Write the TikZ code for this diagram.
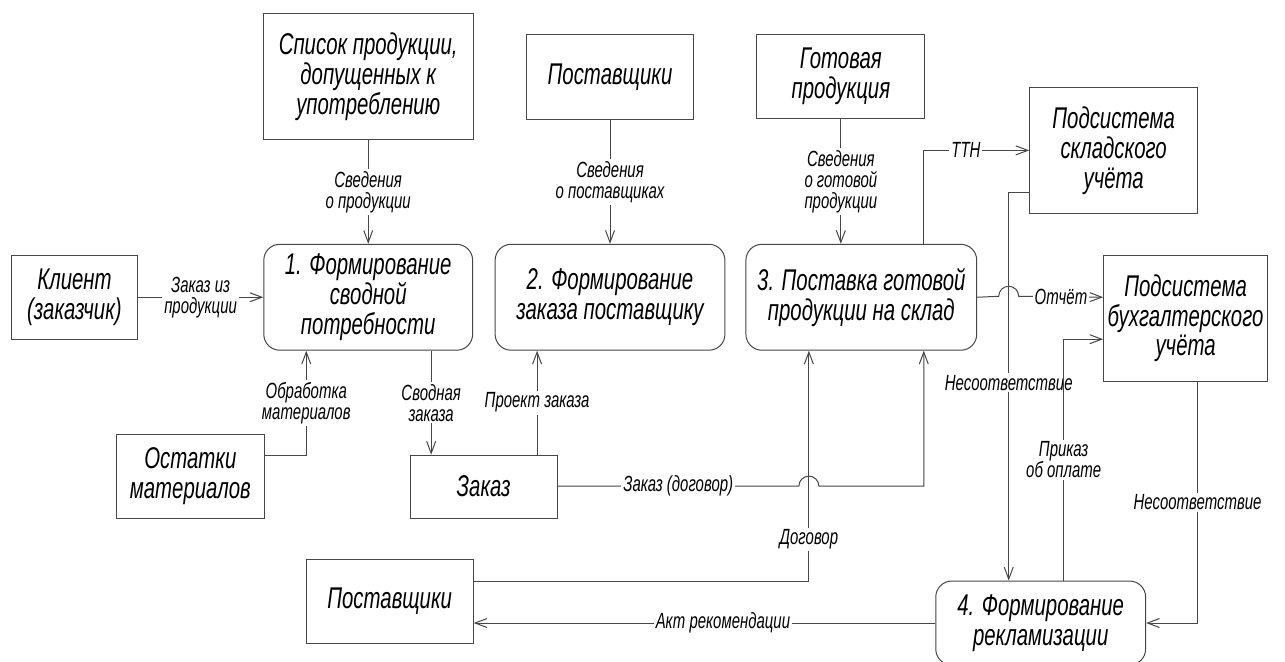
\documentclass[tikz,border=0pt]{standalone}
\usepackage{fontspec}
\setmainfont{Liberation Sans}[FakeStretch=0.68]
\usetikzlibrary{arrows.meta}
\definecolor{ln}{RGB}{70,70,70}
\begin{document}
\begin{tikzpicture}[x=0.5pt,y=-0.5pt,>={Straight Barb[length=6pt,width=4.5pt]},
  line width=.5pt,every path/.style={draw=ln},
  box/.style 2 args={draw=ln,minimum width=#1,minimum height=#2,inner sep=1pt,
    align=center,font=\itshape\fontsize{15}{15}\selectfont},
  proc/.style 2 args={box={#1}{#2},rounded corners=8pt},
  lbl/.style={fill=white,inner sep=1pt,align=center,font=\itshape\fontsize{11}{10.5}\selectfont}]
\useasboundingbox (0,0) rectangle (1285,661);
\fill[white] (0,0) rectangle (1285,661);

\node[box={105pt}{63pt}] (list) at (368,76) {Список продукции,\\допущенных к\\употреблению};
\node[box={84pt}{42.5pt}] (supA) at (610,76.5) {Поставщики};
\node[box={84pt}{42pt}] (ready) at (841,76) {Готовая\\продукция};
\node[box={84pt}{63pt}] (stock) at (1114,150) {Подсистема\\складского\\учёта};
\node[box={82pt}{63pt}] (acct) at (1186,318) {Подсистема\\бухгалтерского\\учёта};
\node[proc={104.5pt}{53pt}] (p1) at (368,297) {1. Формирование\\сводной\\потребности};
\node[proc={115pt}{53pt}] (p2) at (610,297) {2. Формирование\\заказа поставщику};
\node[proc={115.5pt}{53pt}] (p3) at (861.5,297) {3. Поставка готовой\\продукции на склад};
\node[box={63pt}{42pt}] (client) at (74,297) {Клиент\\(заказчик)};
\node[box={74pt}{42pt}] (rest) at (190,476) {Остатки\\материалов};
\node[box={73.5pt}{31.5pt}] (order) at (483.5,486.5) {Заказ};
\node[box={83.5pt}{42.5pt}] (supB) at (389.5,601.5) {Поставщики};
\node[proc={105pt}{42pt}] (p4) at (1041,623) {4. Формирование\\рекламизации};

\coordinate (tth) at (924,150); \coordinate (nc1) at (1009,192);
\coordinate (ob) at (306,455); \coordinate (sv) at (431,400);
\coordinate (pr) at (537,400); \coordinate (zd) at (924,486);
\coordinate (j1) at (799,486); \coordinate (dg) at (809,581);
\coordinate (j2) at (999,296); \coordinate (pk) at (1064,339);
\coordinate (nc2) at (1198,623);

\draw[->] (list) -- node[lbl]{Сведения\\о продукции} (p1);
\draw[->] (supA) -- node[lbl]{Сведения\\о поставщиках} (p2);
\draw[->] (ready) -- node[lbl]{Сведения\\о готовой\\продукции} (ready.south |- p3.north);
\draw[->] (tth |- p3.north) |- node[lbl,pos=.7]{ТТН} (stock.west |- tth);
\draw[->] (stock.west |- nc1) -- (nc1) -- node[lbl,pos=.49]{Несоответствие} (nc1 |- p4.north);
\draw[->] (p3.east) -- (j2) arc[start angle=180,end angle=0,radius=5pt]
  -- node[lbl]{Отчёт} (acct.west |- p3.east);
\draw[->] (client) -- node[lbl]{Заказ из\\продукции} (p1);
\draw[->] (rest.east |- ob) -- (ob) -- node[lbl]{Обработка\\материалов} (ob |- p1.south);
\draw[->] (sv |- p1.south) -- node[lbl]{Сводная\\заказа} (sv |- order.north);
\draw[->] (pr |- order.north) -- node[lbl]{Проект заказа} (pr |- p2.south);
\draw[->] (supB.east |- dg) -- (dg) -- node[lbl,pos=.18]{Договор} (dg |- p3.south);
\draw[->] (order.east |- zd) -- node[lbl]{Заказ (договор)} (j1)
  arc[start angle=180,end angle=0,radius=5pt] -- (zd) -- (zd |- p3.south);
\draw[->] (p4) -- node[lbl,pos=.46]{Акт рекомендации} (supB.east |- p4);
\draw[->] (pk |- p4.north) -- node[lbl]{Приказ\\об оплате} (pk) -- (acct.west |- pk);
\draw[->] (nc2 |- acct.south) -- node[lbl]{Несоответствие} (nc2) -- (p4.east);
\end{tikzpicture}
\end{document}
